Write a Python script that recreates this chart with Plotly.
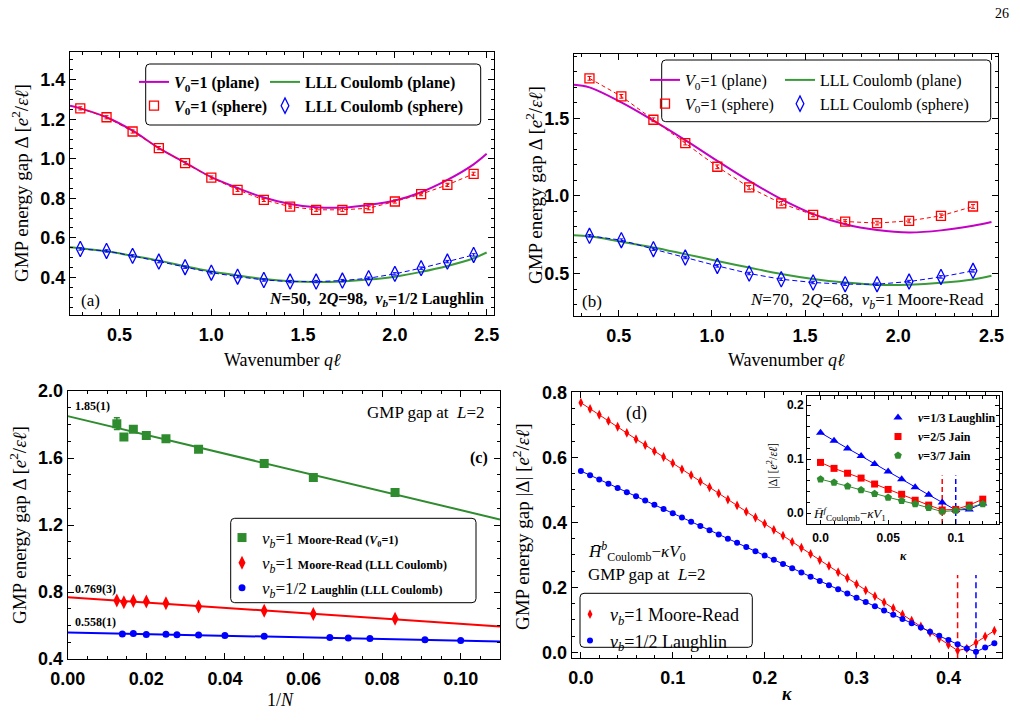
import plotly.graph_objects as go

# ---------------- data ----------------
# panel (a): N=50, 2Q=98, nu_b=1/2 Laughlin
q_plane_a = [0.23, 0.286, 0.429, 0.571, 0.714, 0.857, 1.0, 1.143, 1.286, 1.429, 1.571, 1.714, 1.857, 2.0, 2.143, 2.286, 2.429, 2.5]
v0_plane_a = [1.268, 1.255, 1.21, 1.142, 1.054, 0.981, 0.907, 0.852, 0.804, 0.771, 0.755, 0.753, 0.767, 0.789, 0.831, 0.893, 0.972, 1.025]
coul_plane_a = [0.553, 0.548, 0.532, 0.509, 0.485, 0.456, 0.43, 0.41, 0.392, 0.381, 0.377, 0.38, 0.389, 0.404, 0.428, 0.458, 0.497, 0.526]
q_sphere_a = [0.286, 0.429, 0.571, 0.714, 0.857, 1.0, 1.143, 1.286, 1.429, 1.571, 1.714, 1.857, 2.0, 2.143, 2.286, 2.429]
v0_sphere_a = [1.255, 1.21, 1.138, 1.054, 0.978, 0.905, 0.843, 0.792, 0.758, 0.742, 0.742, 0.750, 0.784, 0.821, 0.868, 0.924]
coul_sphere_a = [0.544, 0.534, 0.509, 0.480, 0.452, 0.424, 0.404, 0.387, 0.379, 0.379, 0.384, 0.396, 0.418, 0.447, 0.480, 0.514]

# panel (b): N=70, 2Q=68, nu_b=1 Moore-Read
q_plane_b = [0.26, 0.343, 0.514, 0.686, 0.857, 1.029, 1.2, 1.372, 1.543, 1.715, 1.886, 2.058, 2.229, 2.401, 2.5]
v0_plane_b = [1.717, 1.70, 1.603, 1.485, 1.36, 1.226, 1.097, 0.979, 0.883, 0.818, 0.781, 0.765, 0.778, 0.808, 0.832]
coul_plane_b = [0.747, 0.740, 0.705, 0.668, 0.625, 0.581, 0.538, 0.497, 0.465, 0.442, 0.427, 0.428, 0.440, 0.462, 0.485]
q_sphere_b = [0.343, 0.514, 0.686, 0.857, 1.029, 1.2, 1.372, 1.543, 1.715, 1.886, 2.058, 2.229, 2.401]
v0_sphere_b = [1.758, 1.642, 1.491, 1.341, 1.188, 1.055, 0.952, 0.878, 0.835, 0.825, 0.839, 0.872, 0.932]
coul_sphere_b = [0.743, 0.715, 0.657, 0.603, 0.549, 0.500, 0.463, 0.442, 0.431, 0.431, 0.448, 0.478, 0.517]

# panel (c): GMP gap at L=2 vs 1/N
invN_mr = [0.0125, 0.0143, 0.0167, 0.02, 0.025, 0.0333, 0.05, 0.0625, 0.0833]
gap_mr_v0 = [1.805, 1.725, 1.771, 1.735, 1.715, 1.652, 1.567, 1.483, 1.394]
err_mr_v0 = [0.035, 0.012, 0.008, 0.005, 0.005, 0.004, 0.004, 0.004, 0.004]
gap_mr_coul = [0.749, 0.739, 0.747, 0.743, 0.733, 0.713, 0.688, 0.668, 0.640]
invN_la = [0.0139, 0.0167, 0.02, 0.025, 0.0278, 0.0333, 0.04, 0.05, 0.0667, 0.0714, 0.0769, 0.0909, 0.1]
gap_la = [0.550, 0.552, 0.547, 0.548, 0.545, 0.544, 0.541, 0.536, 0.528, 0.525, 0.523, 0.515, 0.511]
fit_x = [0.0, 0.11]
fit_mr_v0 = [1.85, 1.233]
fit_mr_coul = [0.769, 0.594]
fit_la = [0.558, 0.505]
fit_labels = ["1.85(1)", "0.769(3)", "0.558(1)"]

# panel (d): |gap| vs kappa
kappa_d = [0.00, 0.01, 0.02, 0.03, 0.04, 0.05, 0.06, 0.07, 0.08, 0.09, 0.10, 0.11, 0.12, 0.13, 0.14, 0.15,
           0.16, 0.17, 0.18, 0.19, 0.20, 0.21, 0.22, 0.23, 0.24, 0.25, 0.26, 0.27, 0.28, 0.29, 0.30, 0.31,
           0.32, 0.33, 0.34, 0.35, 0.36, 0.37, 0.38, 0.39, 0.40, 0.41, 0.42, 0.43, 0.44, 0.45]
gap_d_mr = [0.768, 0.749, 0.731, 0.712, 0.694, 0.675, 0.656, 0.638, 0.619, 0.601, 0.582, 0.563, 0.545, 0.526, 0.508, 0.489,
            0.470, 0.452, 0.433, 0.415, 0.396, 0.377, 0.359, 0.340, 0.322, 0.303, 0.284, 0.266, 0.247, 0.229, 0.210, 0.191,
            0.173, 0.154, 0.136, 0.117, 0.098, 0.080, 0.061, 0.043, 0.024, 0.006, 0.012, 0.030, 0.049, 0.067]
gap_d_la = [0.558, 0.545, 0.532, 0.519, 0.506, 0.493, 0.480, 0.467, 0.454, 0.441, 0.428, 0.415, 0.402, 0.389, 0.376, 0.363,
            0.350, 0.337, 0.324, 0.311, 0.298, 0.285, 0.272, 0.259, 0.246, 0.233, 0.220, 0.207, 0.194, 0.181, 0.168, 0.155,
            0.142, 0.129, 0.116, 0.103, 0.090, 0.077, 0.064, 0.051, 0.038, 0.025, 0.012, 0.002, 0.015, 0.028]
kc_d = [0.41, 0.43]

# inset: fermionic states
kappa_in = [0.00, 0.01, 0.02, 0.03, 0.04, 0.05, 0.06, 0.07, 0.08, 0.09, 0.10, 0.11, 0.12]
gap_in_13 = [0.149, 0.134, 0.120, 0.106, 0.091, 0.077, 0.063, 0.048, 0.034, 0.020, 0.006, 0.007, 0.018]
gap_in_25 = [0.094, 0.083, 0.074, 0.065, 0.054, 0.044, 0.035, 0.024, 0.015, 0.006, 0.007, 0.015, 0.026]
gap_in_37 = [0.063, 0.057, 0.050, 0.043, 0.036, 0.029, 0.023, 0.017, 0.010, 0.003, 0.005, 0.011, 0.017]
kc_in = [0.09, 0.10]

# ---------------- style ----------------
W, H = 1020, 721
def fx(p): return p / W
def fy(p): return 1 - p / H

SERIF = "Liberation Serif, DejaVu Serif, serif"
SANS = "Liberation Sans, Arial, sans-serif"
MAG = "#c400c4"
GRN = "#3a9a3a"
GRN2 = "#2e8b2e"
RED = "#ff0000"
BLU = "#0000ff"

fig = go.Figure()

def sc(**kw):
    fig.add_trace(go.Scatter(**kw))

# ---- panel (a)
sc(x=q_plane_a, y=v0_plane_a, mode='lines', line=dict(color=MAG, width=2, shape='spline'),
   name='<b><i>V</i><sub>0</sub>=1 (plane)</b>', legend='legend', xaxis='x', yaxis='y')
sc(x=q_plane_a, y=coul_plane_a, mode='lines', line=dict(color=GRN, width=2, shape='spline'),
   name='<b>LLL Coulomb (plane)</b>', legend='legend2', xaxis='x', yaxis='y')
sc(x=q_sphere_a, y=v0_sphere_a, mode='lines', line=dict(color=RED, width=1, dash='4px,3px'),
   error_y=dict(type='constant', value=0.008, color=RED, thickness=1, width=2),
   showlegend=False, xaxis='x', yaxis='y')
sc(x=q_sphere_a, y=coul_sphere_a, mode='lines', line=dict(color=BLU, width=1, dash='5px,3px'),
   error_y=dict(type='constant', value=0.006, color=BLU, thickness=1, width=2),
   showlegend=False, xaxis='x', yaxis='y')
sc(x=q_sphere_a, y=v0_sphere_a, mode='markers', marker=dict(symbol='square-open', size=9, color=RED, line=dict(width=1.3)),
   name='<b><i>V</i><sub>0</sub>=1 (sphere)</b>', legend='legend', xaxis='x', yaxis='y')
sc(x=q_sphere_a, y=coul_sphere_a, mode='markers', marker=dict(symbol='diamond-tall-open', size=11, color=BLU, line=dict(width=1.3)),
   name='<b>LLL Coulomb (sphere)</b>', legend='legend2', xaxis='x', yaxis='y')

# ---- panel (b)
sc(x=q_plane_b, y=v0_plane_b, mode='lines', line=dict(color=MAG, width=2, shape='spline'),
   name='<i>V</i><sub>0</sub>=1 (plane)', legend='legend3', xaxis='x2', yaxis='y2')
sc(x=q_plane_b, y=coul_plane_b, mode='lines', line=dict(color=GRN, width=2, shape='spline'),
   name='LLL Coulomb (plane)', legend='legend4', xaxis='x2', yaxis='y2')
sc(x=q_sphere_b, y=v0_sphere_b, mode='lines', line=dict(color=RED, width=1, dash='4px,3px'),
   error_y=dict(type='constant', value=0.012, color=RED, thickness=1, width=2),
   showlegend=False, xaxis='x2', yaxis='y2')
sc(x=q_sphere_b, y=coul_sphere_b, mode='lines', line=dict(color=BLU, width=1, dash='5px,3px'),
   error_y=dict(type='constant', value=0.008, color=BLU, thickness=1, width=2),
   showlegend=False, xaxis='x2', yaxis='y2')
sc(x=q_sphere_b, y=v0_sphere_b, mode='markers', marker=dict(symbol='square-open', size=9, color=RED, line=dict(width=1.3)),
   name='<i>V</i><sub>0</sub>=1 (sphere)', legend='legend3', xaxis='x2', yaxis='y2')
sc(x=q_sphere_b, y=coul_sphere_b, mode='markers', marker=dict(symbol='diamond-tall-open', size=11, color=BLU, line=dict(width=1.3)),
   name='LLL Coulomb (sphere)', legend='legend4', xaxis='x2', yaxis='y2')

# ---- panel (c)
sc(x=fit_x, y=fit_mr_v0, mode='lines', line=dict(color=GRN2, width=2), showlegend=False, xaxis='x3', yaxis='y3')
sc(x=fit_x, y=fit_mr_coul, mode='lines', line=dict(color=RED, width=2), showlegend=False, xaxis='x3', yaxis='y3')
sc(x=fit_x, y=fit_la, mode='lines', line=dict(color=BLU, width=2), showlegend=False, xaxis='x3', yaxis='y3')
sc(x=invN_mr, y=gap_mr_v0, mode='markers', marker=dict(symbol='square', size=9, color=GRN2),
   error_y=dict(type='data', array=err_mr_v0, color=GRN2, thickness=1.5, width=3),
   name="<i>ν</i><sub><i>b</i></sub>=1 <span style='font-size:12px'><b>Moore-Read (<i>V</i><sub>0</sub>=1)</b></span>",
   legend='legend5', xaxis='x3', yaxis='y3')
sc(x=invN_mr, y=gap_mr_coul, mode='markers', marker=dict(symbol='diamond-tall', size=10, color=RED),
   name="<i>ν</i><sub><i>b</i></sub>=1 <span style='font-size:12px'><b>Moore-Read (LLL Coulomb)</b></span>",
   legend='legend5', xaxis='x3', yaxis='y3')
sc(x=invN_la, y=gap_la, mode='markers', marker=dict(symbol='circle', size=7, color=BLU),
   name="<i>ν</i><sub><i>b</i></sub>=1/2 <span style='font-size:12px'><b>Laughlin (LLL Coulomb)</b></span>",
   legend='legend5', xaxis='x3', yaxis='y3')

# ---- panel (d)
sc(x=kappa_d, y=gap_d_mr, mode='lines', line=dict(color=RED, width=1), showlegend=False, xaxis='x4', yaxis='y4')
sc(x=kappa_d, y=gap_d_la, mode='lines', line=dict(color=BLU, width=1), showlegend=False, xaxis='x4', yaxis='y4')
sc(x=[kc_d[0], kc_d[0]], y=[-0.018, 0.238], mode='lines', line=dict(color=RED, width=1.5, dash='6px,4px'),
   showlegend=False, xaxis='x4', yaxis='y4')
sc(x=[kc_d[1], kc_d[1]], y=[-0.018, 0.238], mode='lines', line=dict(color=BLU, width=1.5, dash='6px,4px'),
   showlegend=False, xaxis='x4', yaxis='y4')
sc(x=kappa_d, y=gap_d_mr, mode='markers', marker=dict(symbol='diamond-tall', size=7, color=RED),
   name='<i>ν</i><sub><i>b</i></sub>=1 Moore-Read', legend='legend6', xaxis='x4', yaxis='y4')
sc(x=kappa_d, y=gap_d_la, mode='markers', marker=dict(symbol='circle', size=6, color=BLU),
   name='<i>ν</i><sub><i>b</i></sub>=1/2 Laughlin', legend='legend6', xaxis='x4', yaxis='y4')

# ---- inset
sc(x=kappa_in, y=gap_in_13, mode='lines', line=dict(color=BLU, width=1), showlegend=False, xaxis='x5', yaxis='y5')
sc(x=kappa_in, y=gap_in_25, mode='lines', line=dict(color=RED, width=1), showlegend=False, xaxis='x5', yaxis='y5')
sc(x=kappa_in, y=gap_in_37, mode='lines', line=dict(color=GRN2, width=1), showlegend=False, xaxis='x5', yaxis='y5')
sc(x=[kc_in[0], kc_in[0]], y=[-0.02, 0.07], mode='lines', line=dict(color=RED, width=1.5, dash='5px,3px'),
   showlegend=False, xaxis='x5', yaxis='y5')
sc(x=[kc_in[1], kc_in[1]], y=[-0.02, 0.07], mode='lines', line=dict(color=BLU, width=1.5, dash='5px,3px'),
   showlegend=False, xaxis='x5', yaxis='y5')
sc(x=kappa_in, y=gap_in_13, mode='markers', marker=dict(symbol='triangle-up', size=8, color=BLU),
   name='<b><i>ν</i>=1/3 Laughlin</b>', legend='legend7', xaxis='x5', yaxis='y5')
sc(x=kappa_in, y=gap_in_25, mode='markers', marker=dict(symbol='square', size=7, color=RED),
   name='<b><i>ν</i>=2/5 Jain</b>', legend='legend7', xaxis='x5', yaxis='y5')
sc(x=kappa_in, y=gap_in_37, mode='markers', marker=dict(symbol='pentagon', size=8, color=GRN2),
   name='<b><i>ν</i>=3/7 Jain</b>', legend='legend7', xaxis='x5', yaxis='y5')

# ---------------- axes ----------------
def ax(x0, x1, rng, dtick, minor, fmt, anchor, size=18, horiz=True, **kw):
    if horiz:
        dom = [fx(x0), fx(x1)]
    else:
        dom = [fy(x1), fy(x0)]
    d = dict(domain=dom, range=rng, anchor=anchor, showline=True, linecolor='black', linewidth=1,
             mirror='allticks', ticks='inside', ticklen=6, tickwidth=1, tickcolor='black',
             minor=dict(ticks='inside', ticklen=3, dtick=minor, tickcolor='black', tickwidth=1),
             showgrid=False, zeroline=False,
             tickfont=dict(family=SANS, size=size, color='black', weight='bold'))
    if horiz:
        d['ticklabelstandoff'] = 3
    if dtick is not None:
        d.update(dtick=dtick, tick0=0, tickformat=fmt)
    d.update(kw)
    return d

layout = dict(
    xaxis=ax(70, 494, [0.23, 2.54], 0.5, 0.1, '.1f', 'y'),
    yaxis=ax(52, 315, [0.21, 1.54], 0.2, 0.05, '.1f', 'x', horiz=False),
    xaxis2=ax(574, 998, [0.26, 2.535], 0.5, 0.1, '.1f', 'y2'),
    yaxis2=ax(54, 316, [0.226, 1.915], 0.5, 0.1, '.1f', 'x2', horiz=False),
    xaxis3=ax(67.7, 500, [0.0, 0.11], 0.02, 0.005, '.2f', 'y3'),
    yaxis3=ax(391, 659, [0.4, 2.0], 0.4, 0.1, '.1f', 'x3', horiz=False),
    xaxis4=ax(571.7, 1001.7, [-0.01, 0.458], 0.1, 0.02, '.1f', 'y4'),
    yaxis4=ax(392.3, 658.3, [-0.018, 0.8], 0.2, 0.05, '.1f', 'x4', horiz=False),
    xaxis5=ax(807, 999, [-0.01, 0.132], None, 0.01, None, 'y5', size=12,
              tickvals=[0.0, 0.05, 0.1], ticktext=['0.0', '0.05', '0.1'], ticklen=4),
    yaxis5=ax(396, 524, [-0.02, 0.217], 0.1, 0.02, '.1f', 'x5', size=12, horiz=False, ticklen=4),
)

def leg(x, y, size):
    return dict(x=fx(x), y=fy(y), xref='paper', yref='paper', xanchor='left', yanchor='top',
                bgcolor='rgba(0,0,0,0)', borderwidth=0, itemwidth=30, tracegroupgap=0,
                font=dict(family=SERIF, size=size, color='black'))

layout.update(
    legend=leg(134, 65, 16), legend2=leg(265, 65, 16),
    legend3=leg(645, 63, 16), legend4=leg(780, 63, 16),
    legend5=leg(222, 520, 17), legend6=leg(570, 596, 18),
    legend7=leg(878, 403, 12),
)

def rrect(x0, y0, x1, y1, r=4):
    X = lambda p: fx(p)
    Y = lambda p: fy(p)
    return (f"M{X(x0+r)},{Y(y0)} L{X(x1-r)},{Y(y0)} Q{X(x1)},{Y(y0)} {X(x1)},{Y(y0+r)} "
            f"L{X(x1)},{Y(y1-r)} Q{X(x1)},{Y(y1)} {X(x1-r)},{Y(y1)} L{X(x0+r)},{Y(y1)} "
            f"Q{X(x0)},{Y(y1)} {X(x0)},{Y(y1-r)} L{X(x0)},{Y(y0+r)} Q{X(x0)},{Y(y0)} {X(x0+r)},{Y(y0)} Z")

shapes = []
for (a, b, c, d) in [(145.7, 64, 480.7, 125), (661.7, 60, 990.7, 121.7), (230.7, 518.3, 476, 602.7), (580, 593.3, 752.3, 647.3)]:
    shapes.append(dict(type='path', path=rrect(a, b, c, d), xref='paper', yref='paper',
                       line=dict(color='black', width=1), fillcolor='rgba(0,0,0,0)', layer='above'))

def ann(x, y, text, size=17, xa='center', angle=0, ya='middle'):
    return dict(x=fx(x), y=fy(y), xref='paper', yref='paper', text=text, showarrow=False,
                xanchor=xa, yanchor=ya, textangle=angle, font=dict(family=SERIF, size=size, color='black'))

ytitle = "GMP energy gap Δ [<i>e</i><sup>2</sup>/<i>εℓ</i>]"
annotations = [
    ann(1002, 14, "26", 14),
    ann(20, 183, ytitle, 19, angle=-90),
    ann(282, 360, "Wavenumber <i>qℓ</i>", 18),
    ann(534, 185, ytitle, 19, angle=-90),
    ann(786, 360, "Wavenumber <i>qℓ</i>", 18),
    ann(18, 525, ytitle, 19, angle=-90),
    ann(280, 700, "1/<i>N</i>", 18),
    ann(521, 527, "GMP energy gap |Δ| [<i>e</i><sup>2</sup>/<i>εℓ</i>]", 19, angle=-90),
    ann(787, 694, "<b><i>κ</i></b>", 18),
    ann(772, 466, "|Δ| [<i>e</i><sup>2</sup>/<i>εℓ</i>]", 12, angle=-90),
    ann(903, 556, "<b><i>κ</i></b>", 12),
    ann(90, 300, "(a)", 17),
    ann(486, 299, "<b><i>N</i>=50,  2<i>Q</i>=98,  <i>ν</i><sub><i>b</i></sub>=1/2 Laughlin</b>", 16, xa='right'),
    ann(592, 301, "(b)", 17),
    ann(986, 301, "<i>N</i>=70,  2<i>Q</i>=68,  <i>ν</i><sub><i>b</i></sub>=1 Moore-Read", 17, xa='right'),
    ann(73, 406, "<b>" + fit_labels[0] + "</b>", 12, xa='left'),
    ann(73, 589, "<b>" + fit_labels[1] + "</b>", 12, xa='left'),
    ann(73, 622, "<b>" + fit_labels[2] + "</b>", 12, xa='left'),
    ann(487, 412, "GMP gap at  <i>L</i>=2", 17, xa='right'),
    ann(479, 458, "<b>(c)</b>", 16),
    ann(636, 413, "(d)", 18),
    ann(586, 551, "<i>H̄</i><sup><i>b</i></sup><sub>Coulomb</sub>−<i>κV</i><sub>0</sub>", 17, xa='left'),
    ann(586, 574, "GMP gap at  <i>L</i>=2", 17, xa='left'),
    ann(811, 514, "<i>H̄</i><sup><i>f</i></sup><sub>Coulomb</sub>−<i>κV</i><sub>1</sub>", 13, xa='left'),
]

fig.update_layout(**layout)
fig.update_layout(width=W, height=H, margin=dict(l=0, r=0, t=0, b=0, autoexpand=False), paper_bgcolor='white',
                  plot_bgcolor='white', showlegend=True, shapes=shapes, annotations=annotations)
fig.write_html("out.html")
